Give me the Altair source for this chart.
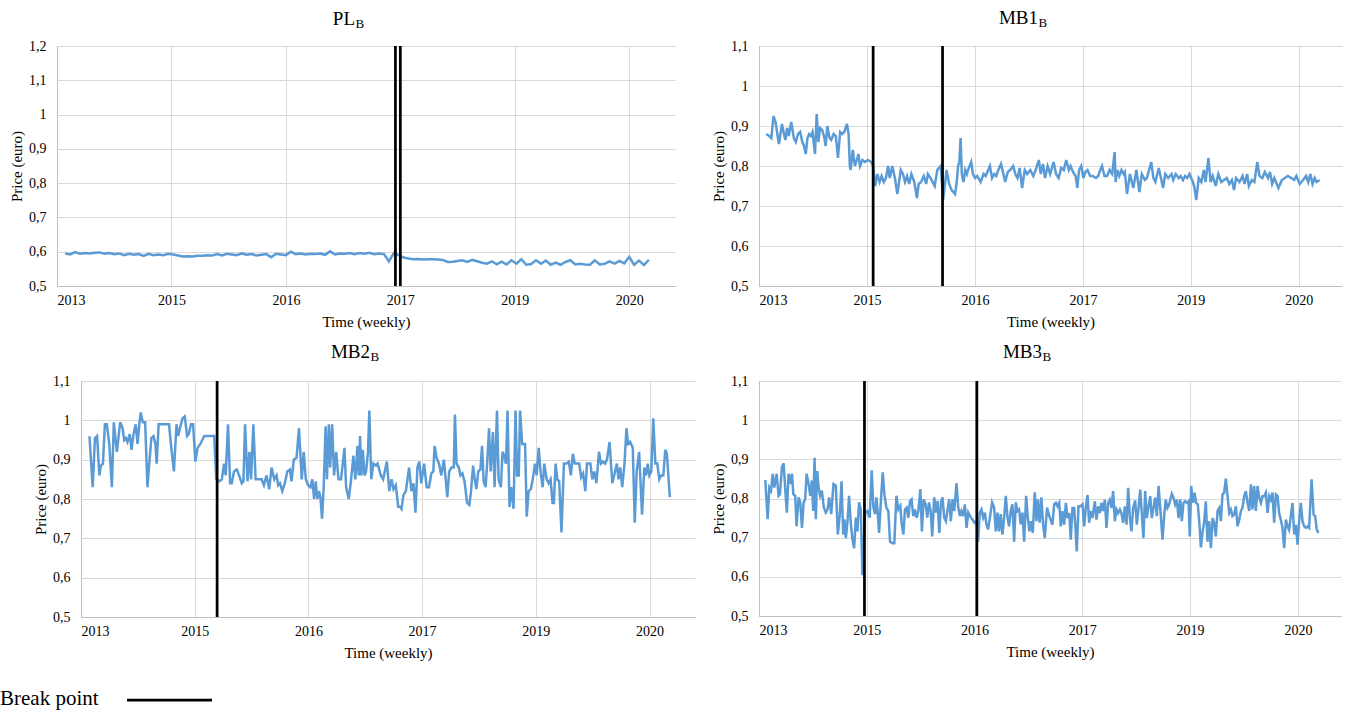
import altair as alt
import pandas as pd

FONT = "Liberation Serif"
BLUE = "#5B9BD5"

X_TICKS = [0, 70, 140, 210, 280, 350]
X_LABELS = ["2013", "2015", "2016", "2017", "2019", "2020"]
X_END = 378

# ---------------- PL_B ----------------
PL_WEEKS = list(range(5, 363, 3))
PL_VALUES = [
    0.595, 0.592, 0.599, 0.594, 0.596, 0.595, 0.597, 0.598, 0.594, 0.596,
    0.593, 0.595, 0.590, 0.594, 0.591, 0.593, 0.588, 0.594, 0.590, 0.592,
    0.590, 0.594, 0.592, 0.589, 0.586, 0.587, 0.586, 0.588, 0.588, 0.590,
    0.589, 0.593, 0.589, 0.594, 0.592, 0.590, 0.595, 0.591, 0.593, 0.589,
    0.591, 0.593, 0.584, 0.594, 0.592, 0.590, 0.600, 0.593, 0.595, 0.592,
    0.594, 0.593, 0.595, 0.591, 0.601, 0.592, 0.595, 0.594, 0.596, 0.593,
    0.596, 0.594, 0.597, 0.593, 0.595, 0.593, 0.572, 0.596, 0.590, 0.583,
    0.580, 0.578, 0.579, 0.577, 0.578, 0.578, 0.577, 0.576, 0.570, 0.571,
    0.573, 0.575, 0.570, 0.576, 0.572, 0.568, 0.565, 0.572, 0.563, 0.571,
    0.563, 0.575, 0.565, 0.578, 0.562, 0.564, 0.575, 0.565, 0.574, 0.562,
    0.568, 0.562, 0.570, 0.575, 0.563, 0.565, 0.563, 0.562, 0.575, 0.563,
    0.565, 0.572, 0.565, 0.573, 0.566, 0.585, 0.562, 0.574, 0.561, 0.576,
]
PL_BREAKS = [207, 210]

# ---------------- MB1_B ----------------
MB1_WEEKS = [
    4.7, 6.6, 8.0, 9.4, 10.7, 12.9, 14.9, 16.2, 17.1, 18.2,
    19.3, 20.9, 22.6, 23.9, 25.3, 26.7, 28.1, 29.2, 30.3, 31.4,
    32.5, 33.6, 34.7, 36.3, 37.4, 38.5, 39.6, 41.0, 42.4, 43.2,
    44.3, 45.7, 46.8, 48.4, 49.8, 51.2, 52.6, 53.9, 55.3, 57.0,
    58.1, 58.9, 59.4, 60.8, 62.2, 63.8, 64.4, 65.5, 67.1, 68.8,
    70.7, 72.7, 74.0, 75.4, 76.8, 78.2, 79.5, 80.9, 82.3, 83.7,
    84.8, 86.4, 88.1, 89.7, 91.9, 93.3, 94.7, 96.0, 97.4, 98.8,
    100.7, 102.4, 103.5, 105.1, 106.8, 108.4, 109.5, 111.2, 113.9, 115.6,
    117.8, 119.4, 121.6, 123.3, 124.9, 127.1, 128.2, 129.1, 129.9, 130.7,
    131.5, 132.6, 133.7, 134.8, 136.0, 137.6, 138.7, 140.1, 141.5, 143.7,
    145.6, 147.0, 148.6, 149.7, 151.1, 152.5, 153.8, 155.2, 156.9, 158.5,
    159.6, 161.3, 162.9, 164.8, 166.2, 167.6, 169.0, 170.6, 172.3, 173.9,
    175.9, 177.8, 179.4, 181.4, 182.7, 184.1, 185.5, 187.1, 188.8, 191.0,
    192.6, 194.3, 195.9, 197.6, 199.2, 200.9, 202.0, 203.6, 205.3, 206.4,
    207.5, 208.9, 210.3, 211.6, 213.0, 214.7, 216.3, 218.5, 219.9, 221.3,
    222.4, 224.0, 225.7, 227.3, 229.0, 230.6, 231.2, 232.3, 233.6, 235.0,
    236.4, 237.2, 238.6, 240.5, 242.7, 244.7, 246.6, 248.2, 250.2, 251.5,
    254.3, 255.7, 257.0, 259.2, 260.6, 262.0, 263.4, 265.3, 267.5, 268.6,
    270.2, 272.2, 273.5, 274.9, 276.3, 277.7, 279.1, 281.3, 282.4, 283.5,
    285.1, 286.8, 288.4, 289.5, 291.4, 292.8, 294.2, 296.1, 297.8, 299.7,
    301.6, 303.3, 304.9, 306.6, 308.0, 309.3, 311.5, 313.5, 314.8, 316.5,
    317.6, 319.5, 321.2, 323.1, 324.5, 326.4, 328.0, 330.0, 331.3, 332.7,
    334.1, 336.8, 339.0, 341.0, 342.9, 345.1, 347.0, 348.4, 350.6, 352.8,
    354.7, 356.1, 357.5, 358.9, 360.3, 361.6, 363.5,
]
MB1_VALUES = [
    0.88, 0.875, 0.87, 0.925, 0.91, 0.855, 0.905, 0.88, 0.865, 0.895,
    0.875, 0.91, 0.87, 0.86, 0.88, 0.885, 0.86, 0.85, 0.83, 0.87,
    0.88, 0.875, 0.885, 0.83, 0.93, 0.86, 0.895, 0.89, 0.87, 0.85,
    0.90, 0.87, 0.865, 0.88, 0.875, 0.82, 0.885, 0.88, 0.885, 0.905,
    0.88, 0.80, 0.79, 0.84, 0.80, 0.82, 0.83, 0.80, 0.815, 0.81,
    0.815, 0.81, 0.80, 0.75, 0.78, 0.76, 0.775, 0.76, 0.77, 0.80,
    0.77, 0.80, 0.77, 0.73, 0.79, 0.78, 0.76, 0.775, 0.755, 0.78,
    0.76, 0.72, 0.755, 0.76, 0.775, 0.755, 0.78, 0.77, 0.75, 0.79,
    0.80, 0.715, 0.79, 0.755, 0.74, 0.73, 0.76, 0.80, 0.81, 0.87,
    0.78, 0.76, 0.79, 0.78, 0.795, 0.81, 0.78, 0.77, 0.775, 0.76,
    0.78, 0.775, 0.79, 0.80, 0.77, 0.78, 0.775, 0.79, 0.805, 0.78,
    0.76, 0.785, 0.79, 0.80, 0.78, 0.77, 0.795, 0.745, 0.79, 0.78,
    0.79, 0.775, 0.79, 0.815, 0.78, 0.805, 0.77, 0.80, 0.78, 0.81,
    0.78, 0.77, 0.795, 0.79, 0.815, 0.79, 0.80, 0.785, 0.775, 0.745,
    0.79, 0.80, 0.77, 0.785, 0.79, 0.775, 0.775, 0.77, 0.775, 0.79,
    0.80, 0.775, 0.775, 0.79, 0.78, 0.835, 0.76, 0.79, 0.775, 0.79,
    0.78, 0.785, 0.73, 0.78, 0.745, 0.79, 0.735, 0.78, 0.765, 0.77,
    0.81, 0.77, 0.76, 0.795, 0.77, 0.745, 0.78, 0.77, 0.78, 0.765,
    0.78, 0.77, 0.775, 0.765, 0.775, 0.77, 0.78, 0.76, 0.745, 0.715,
    0.77, 0.76, 0.79, 0.76, 0.82, 0.76, 0.775, 0.75, 0.78, 0.76,
    0.765, 0.77, 0.755, 0.765, 0.74, 0.77, 0.76, 0.775, 0.755, 0.78,
    0.75, 0.765, 0.76, 0.81, 0.775, 0.77, 0.785, 0.77, 0.785, 0.755,
    0.77, 0.745, 0.765, 0.77, 0.775, 0.77, 0.765, 0.775, 0.755, 0.765,
    0.775, 0.76, 0.78, 0.755, 0.77, 0.76, 0.765,
]
MB1_BREAKS = [74, 119]

# ---------------- MB2_B (week, price) ----------------
MB2_POINTS = [
    (5.2, 0.96), (7.2, 0.83), (8.6, 0.955), (9.9, 0.96), (11.3, 0.86), (12.3, 0.885), (13.5, 0.89), (14.7, 0.99), (15.9, 0.99), (17.4, 0.94),
    (19.0, 0.83), (20.2, 0.995), (22.1, 0.92), (24.1, 0.995), (25.6, 0.98), (26.6, 0.95), (27.6, 0.955), (28.6, 0.945), (30.0, 0.965), (31.1, 0.925),
    (32.3, 0.965), (33.7, 0.99), (34.8, 0.94), (36.0, 0.995), (36.8, 1.02), (38.0, 0.995), (39.5, 0.995), (40.9, 0.83), (43.3, 0.955), (44.6, 0.96),
    (45.8, 0.94), (46.6, 0.89), (47.8, 0.99), (49.5, 0.99), (51.1, 0.99), (54.2, 0.99), (55.6, 0.93), (57.2, 0.87), (58.8, 0.99), (59.8, 0.96),
    (61.2, 0.985), (62.5, 1.005), (63.9, 1.01), (65.3, 0.96), (66.3, 0.965), (67.7, 0.99), (69.0, 0.99), (70.4, 0.895), (71.8, 0.93), (73.5, 0.94),
    (75.9, 0.96), (79.6, 0.96), (82.0, 0.96), (83.3, 0.85), (85.3, 0.845), (86.7, 0.85), (88.1, 0.89), (89.1, 0.86), (90.5, 0.99), (91.8, 0.84),
    (92.8, 0.84), (94.2, 0.87), (95.9, 0.875), (97.3, 0.86), (99.0, 0.84), (100.0, 0.845), (101.0, 0.99), (102.5, 0.845), (103.7, 0.92), (104.7, 0.85),
    (106.1, 0.99), (107.5, 0.85), (111.2, 0.85), (112.6, 0.835), (114.2, 0.86), (115.9, 0.825), (117.3, 0.88), (119.0, 0.85), (120.4, 0.86), (121.4, 0.835),
    (122.5, 0.84), (123.9, 0.82), (125.5, 0.84), (127.0, 0.87), (128.6, 0.875), (129.6, 0.845), (131.0, 0.90), (132.7, 0.905), (134.2, 0.98), (135.9, 0.85),
    (137.1, 0.92), (138.4, 0.85), (139.8, 0.835), (141.2, 0.83), (142.4, 0.85), (143.5, 0.80), (144.5, 0.845), (145.5, 0.80), (146.5, 0.82), (147.4, 0.805),
    (148.4, 0.75), (149.4, 0.83), (150.6, 0.985), (151.4, 0.85), (152.6, 0.99), (153.4, 0.88), (154.6, 0.99), (155.8, 0.86), (157.1, 0.92), (158.5, 0.85),
    (160.1, 0.85), (162.2, 0.93), (163.2, 0.83), (164.8, 0.80), (166.3, 0.85), (167.7, 0.91), (168.9, 0.85), (170.2, 0.935), (171.0, 0.86), (171.8, 0.96),
    (172.6, 0.86), (173.5, 0.925), (174.5, 0.86), (175.5, 0.87), (176.7, 0.92), (177.5, 1.025), (178.7, 0.85), (180.0, 0.89), (181.6, 0.885), (182.6, 0.89),
    (184.6, 0.86), (186.0, 0.85),
    (188.3, 0.895), (189.8, 0.82), (191.2, 0.85), (192.4, 0.825), (193.8, 0.835), (195.3, 0.78), (196.5, 0.78), (197.3, 0.775), (198.5, 0.81), (200.0, 0.82),
    (202.0, 0.88), (203.4, 0.82), (204.7, 0.84), (205.9, 0.765), (207.1, 0.88), (208.3, 0.895), (209.5, 0.84), (211.2, 0.89), (212.8, 0.83), (214.2, 0.83),
    (215.7, 0.865), (216.9, 0.87), (217.7, 0.935), (218.9, 0.905), (220.4, 0.89), (221.8, 0.86), (223.4, 0.90), (224.4, 0.855), (225.5, 0.805), (226.7, 0.87),
    (228.1, 0.88), (229.5, 0.88), (230.2, 1.015), (231.2, 0.89), (232.6, 0.88), (233.6, 0.86), (234.8, 0.865), (236.1, 0.845), (237.7, 0.79), (239.1, 0.785),
    (240.1, 0.82), (241.4, 0.885), (242.4, 0.85), (243.4, 0.825), (244.6, 0.87), (245.9, 0.875), (246.9, 0.935), (247.9, 0.845), (249.1, 0.83), (249.9, 0.88),
    (251.2, 0.98), (252.2, 0.87), (253.6, 0.97), (254.6, 0.83), (256.1, 1.025), (257.1, 0.85), (258.5, 0.83), (259.5, 0.92), (260.5, 0.91), (261.6, 0.89),
    (262.6, 1.025), (263.8, 0.78), (264.8, 0.83), (266.3, 0.775), (267.5, 1.025), (268.5, 0.86), (269.5, 0.86), (270.3, 1.025), (271.6, 0.94), (273.4, 0.94),
    (274.4, 0.755), (275.6, 0.82), (276.9, 0.825), (278.1, 0.85), (279.5, 0.89), (280.5, 0.86), (281.8, 0.93), (283.0, 0.865), (284.2, 0.83), (285.2, 0.89),
    (286.7, 0.85), (287.9, 0.84), (289.1, 0.85), (290.3, 0.79), (291.1, 0.79), (292.2, 0.89), (293.2, 0.85), (294.4, 0.845), (295.8, 0.715), (297.3, 0.89),
    (298.9, 0.89), (300.3, 0.895), (301.6, 0.86), (302.8, 0.915), (304.0, 0.89), (306.7, 0.89), (307.9, 0.855), (309.1, 0.865), (310.5, 0.82), (311.5, 0.89),
    (313.6, 0.89), (314.8, 0.85), (316.0, 0.87), (317.3, 0.84), (318.9, 0.92), (320.1, 0.89), (321.3, 0.895), (322.6, 0.89), (323.8, 0.90), (325.4, 0.945),
    (327.1, 0.84), (328.5, 0.865), (329.9, 0.89), (330.9, 0.85), (332.0, 0.88), (333.2, 0.83), (334.6, 0.89), (335.8, 0.98), (336.8, 0.94), (338.1, 0.945),
    (339.7, 0.93), (340.9, 0.74), (342.1, 0.87), (343.6, 0.92), (345.4, 0.76), (346.8, 0.88), (347.9, 0.86), (348.9, 0.89), (349.9, 0.86), (351.1, 0.87),
    (352.3, 1.005), (353.6, 0.89), (354.8, 0.89), (356.0, 0.85), (357.2, 0.86), (358.5, 0.86), (359.7, 0.925), (360.7, 0.915), (362.5, 0.805),
]
MB2_BREAKS = [83.8]

# ---------------- MB3_B (week, price) ----------------
MB3_POINTS = [
    (4.1, 0.847), (5.6, 0.747), (6.7, 0.828), (7.8, 0.82), (8.9, 0.863), (9.9, 0.828), (11.5, 0.863), (12.7, 0.807), (13.6, 0.811), (14.9, 0.88),
    (16.0, 0.89), (17.1, 0.82), (18.1, 0.764), (19.2, 0.863), (20.3, 0.837), (21.4, 0.863), (22.3, 0.811), (23.5, 0.807), (24.4, 0.729), (25.7, 0.803),
    (26.8, 0.79), (27.9, 0.725), (29.0, 0.79), (30.0, 0.798), (30.9, 0.863), (32.2, 0.837), (33.3, 0.807), (34.3, 0.846), (35.2, 0.768), (36.1, 0.904),
    (36.9, 0.747), (37.8, 0.87), (38.7, 0.828), (39.7, 0.807), (40.8, 0.82), (42.1, 0.777), (43.4, 0.764), (44.5, 0.772), (45.6, 0.803), (46.9, 0.76),
    (48.4, 0.837), (49.9, 0.833), (51.2, 0.708), (52.5, 0.76), (53.6, 0.844), (54.7, 0.708), (55.5, 0.747), (56.4, 0.699), (57.5, 0.742), (58.5, 0.807),
    (59.6, 0.738), (60.7, 0.695), (61.8, 0.673), (62.9, 0.751), (63.9, 0.716), (65.0, 0.79), (66.1, 0.772), (67.2, 0.604), (68.9, 0.764), (70.4, 0.768),
    (71.9, 0.751), (73.2, 0.872), (74.3, 0.777), (75.4, 0.76), (76.3, 0.803), (77.1, 0.764), (78.0, 0.712), (79.3, 0.803), (80.4, 0.867), (81.4, 0.811),
    (82.7, 0.777), (84.0, 0.768), (85.1, 0.69), (86.6, 0.686), (87.9, 0.686), (89.2, 0.807), (90.5, 0.772), (91.8, 0.781), (92.7, 0.734), (93.8, 0.708),
    (94.8, 0.772), (95.9, 0.777), (97.0, 0.751), (98.1, 0.794), (99.1, 0.798), (100.2, 0.755), (101.3, 0.772), (102.4, 0.751), (103.5, 0.768), (104.8, 0.824),
    (105.8, 0.716), (106.9, 0.798), (108.2, 0.785), (109.3, 0.751), (110.4, 0.79), (111.5, 0.768), (112.5, 0.703), (113.8, 0.803), (114.9, 0.764), (116.0, 0.794),
    (117.1, 0.712), (118.2, 0.79), (119.2, 0.803), (120.3, 0.751), (121.4, 0.742), (122.5, 0.772), (123.5, 0.798), (124.6, 0.742), (125.7, 0.798), (126.8, 0.768),
    (128.3, 0.839), (129.4, 0.777), (130.5, 0.755), (131.5, 0.768), (132.6, 0.755), (133.7, 0.785), (134.8, 0.725), (135.9, 0.764), (137.0, 0.755), (138.5, 0.747),
    (140.0, 0.738), (141.3, 0.742), (142.3, 0.69), (143.4, 0.764), (144.5, 0.772), (145.6, 0.751), (146.7, 0.764), (147.7, 0.734), (148.8, 0.721), (150.1, 0.755),
    (151.4, 0.79), (152.7, 0.777), (153.8, 0.716), (154.9, 0.764), (155.9, 0.716), (157.0, 0.76), (158.1, 0.708), (159.2, 0.751), (160.3, 0.807), (161.4, 0.751),
    (162.4, 0.729), (163.5, 0.768), (164.6, 0.785), (165.7, 0.69), (166.8, 0.79), (167.8, 0.768), (168.9, 0.772), (170.0, 0.734), (171.1, 0.764), (172.2, 0.69),
    (173.5, 0.807), (174.5, 0.755), (175.6, 0.716), (176.7, 0.742), (177.8, 0.712), (179.1, 0.816), (180.2, 0.742), (181.2, 0.798), (182.3, 0.738), (183.4, 0.803),
    (184.5, 0.734), (185.6, 0.699), (187.1, 0.777), (188.1, 0.76),
    (190.6, 0.733), (191.7, 0.785), (192.8, 0.789), (193.9, 0.78), (195.0, 0.789), (196.0, 0.729), (197.1, 0.768), (198.2, 0.733), (199.3, 0.789), (200.4, 0.75),
    (201.5, 0.763), (202.5, 0.695), (203.6, 0.776), (204.7, 0.776), (205.4, 0.733), (206.4, 0.665), (207.5, 0.78), (208.8, 0.78), (210.1, 0.785), (211.2, 0.729),
    (212.3, 0.78), (213.4, 0.809), (214.4, 0.738), (215.5, 0.768), (216.6, 0.75), (218.1, 0.793), (219.2, 0.746), (220.3, 0.78), (221.4, 0.763), (222.5, 0.789),
    (223.5, 0.768), (224.6, 0.797), (225.7, 0.725), (226.8, 0.789), (227.9, 0.797), (229.0, 0.776), (230.0, 0.819), (231.1, 0.742), (232.2, 0.772), (233.3, 0.763),
    (234.4, 0.772), (235.4, 0.763), (236.5, 0.738), (237.6, 0.78), (238.7, 0.733), (239.8, 0.827), (240.9, 0.75), (241.9, 0.716), (243.0, 0.776), (244.3, 0.795),
    (245.4, 0.733), (246.5, 0.776), (247.6, 0.823), (248.6, 0.763), (249.7, 0.699), (250.8, 0.819), (251.9, 0.75), (253.0, 0.78), (254.1, 0.806), (255.1, 0.75),
    (256.2, 0.776), (257.3, 0.802), (258.4, 0.755), (259.5, 0.832), (260.6, 0.776), (262.1, 0.695), (263.2, 0.759), (264.2, 0.797), (265.3, 0.776), (266.4, 0.785),
    (268.1, 0.812), (269.2, 0.802), (270.3, 0.785), (271.4, 0.797), (272.5, 0.75), (273.6, 0.797), (274.6, 0.742), (275.7, 0.789), (276.8, 0.793), (277.9, 0.789),
    (279.0, 0.793), (279.8, 0.703), (280.7, 0.832), (281.8, 0.789), (282.9, 0.815), (283.9, 0.789), (285.0, 0.785), (286.1, 0.733), (287.0, 0.675), (288.1, 0.716),
    (289.1, 0.738), (290.2, 0.793), (291.3, 0.69), (292.4, 0.742), (293.5, 0.673), (294.6, 0.75), (295.6, 0.738), (296.7, 0.703), (297.8, 0.768), (298.9, 0.776),
    (300.0, 0.742), (301.0, 0.81), (302.1, 0.815), (303.2, 0.851), (304.3, 0.806), (305.4, 0.763), (306.5, 0.772), (307.5, 0.755), (308.6, 0.759), (309.7, 0.78),
    (310.8, 0.729), (311.9, 0.746), (313.0, 0.768), (314.0, 0.776), (315.1, 0.806), (316.2, 0.819), (317.3, 0.789), (318.4, 0.768), (319.5, 0.836), (320.5, 0.772),
    (321.6, 0.832), (322.7, 0.768), (323.8, 0.832), (324.9, 0.802), (326.0, 0.789), (327.0, 0.806), (328.1, 0.806), (329.2, 0.815), (330.3, 0.763), (331.4, 0.806),
    (332.4, 0.797), (333.5, 0.815), (334.6, 0.738), (335.7, 0.81), (336.8, 0.806), (337.8, 0.763), (338.9, 0.746), (340.0, 0.725), (341.1, 0.673), (342.2, 0.746),
    (343.3, 0.729), (344.3, 0.72), (345.4, 0.755), (346.5, 0.789), (347.6, 0.708), (348.7, 0.733), (349.8, 0.682), (350.8, 0.742), (351.9, 0.789), (353.0, 0.742),
    (354.1, 0.729), (355.2, 0.725), (356.3, 0.729), (357.3, 0.725), (358.9, 0.849), (360.2, 0.759), (361.2, 0.755), (362.3, 0.72), (363.4, 0.712),
]
MB3_BREAKS = [68.5, 141.5]

Y_TICKS_12 = [0.5, 0.6, 0.7, 0.8, 0.9, 1.0, 1.1, 1.2]
Y_TICKS_11 = [0.5, 0.6, 0.7, 0.8, 0.9, 1.0, 1.1]

X_LABEL_EXPR = " : ".join(
    f"datum.value == {t} ? '{l}'" for t, l in zip(X_TICKS, X_LABELS)
) + " : ''"
Y_LABEL_EXPR = "replace(format(datum.value, '.1~f'), '.', ',')"

ONE = pd.DataFrame({"k": [0]})

AXIS_STYLE = dict(labelFont=FONT, titleFont=FONT, labelFontSize=14, titleFontSize=15,
                  titleFontWeight="normal", labelColor="black", titleColor="black",
                  gridColor="#d9d9d9", gridWidth=1, domainColor="#bfbfbf", ticks=False,
                  labelOverlap=False)


def panel(weeks, values, breaks, y_top, y_ticks, width, height, name, tx, ty,
          x_range=None, y_offset=0, extra=None):
    data = pd.DataFrame({"week": weeks, "price": values})
    sx = dict(domain=[0, X_END], nice=False, zero=False)
    if x_range is not None:
        sx["range"] = x_range
    x = alt.X(
        "week:Q",
        scale=alt.Scale(**sx),
        axis=alt.Axis(values=X_TICKS, labelExpr=X_LABEL_EXPR, title="Time (weekly)",
                      labelPadding=7, titlePadding=7, **AXIS_STYLE),
    )
    yax = dict(values=y_ticks, labelExpr=Y_LABEL_EXPR, title="Price (euro)",
               labelPadding=11, titlePadding=4, **AXIS_STYLE)
    if y_offset:
        yax["offset"] = y_offset
    y = alt.Y("price:Q", scale=alt.Scale(domain=[0.5, y_top], nice=False, zero=False),
              axis=alt.Axis(**yax))
    line = alt.Chart(data).mark_line(color=BLUE, strokeWidth=2.5).encode(x=x, y=y)
    rules = alt.Chart(pd.DataFrame({"week": breaks})).mark_rule(
        color="black", strokeWidth=2.75).encode(x="week:Q")
    main = alt.Chart(ONE).mark_text(font=FONT, fontSize=19, align="right",
                                    baseline="alphabetic", color="black").encode(
        x=alt.value(tx), y=alt.value(ty), text=alt.value(name))
    sub = alt.Chart(ONE).mark_text(font=FONT, fontSize=13, align="left",
                                   baseline="alphabetic", color="black").encode(
        x=alt.value(tx + 0.5), y=alt.value(ty + 3), text=alt.value("B"))
    layers = [line, rules, main, sub] + (extra or [])
    return alt.layer(*layers).properties(width=width, height=height)


pl = panel(PL_WEEKS, PL_VALUES, PL_BREAKS, 1.2, Y_TICKS_12, 618, 240, "PL", 298, -21)
mb1 = panel(MB1_WEEKS, MB1_VALUES, MB1_BREAKS, 1.1, Y_TICKS_11, 583, 240, "MB1", 279, -22)

legend_text = alt.Chart(ONE).mark_text(font=FONT, fontSize=21, align="left",
                                       baseline="middle", color="black").encode(
    x=alt.value(-57), y=alt.value(318), text=alt.value("Break point"))
legend_line = alt.Chart(ONE).mark_rule(color="black", strokeWidth=2.75).encode(
    x=alt.value(70), x2=alt.value(155), y=alt.value(319))

mb2 = panel([p[0] for p in MB2_POINTS], [p[1] for p in MB2_POINTS], MB2_BREAKS, 1.1,
            Y_TICKS_11, 638, 236, "MB2", 313, -23, x_range=[24, 638], y_offset=-24,
            extra=[legend_text, legend_line])
mb3 = panel([p[0] for p in MB3_POINTS], [p[1] for p in MB3_POINTS], MB3_BREAKS, 1.1,
            Y_TICKS_11, 582, 235, "MB3", 283, -23)

chart = alt.concat(
    pl, mb1, mb2, mb3, columns=2, spacing={"row": 95, "column": 64}, bounds="flush"
).properties(
    padding={"left": 0, "top": 9, "right": 4, "bottom": 5}
).configure(font=FONT).configure_view(stroke=None).configure_axis(
    **AXIS_STYLE
).configure_text(font=FONT)

chart.save("out.html", embed_options={"renderer": "svg", "actions": False})
